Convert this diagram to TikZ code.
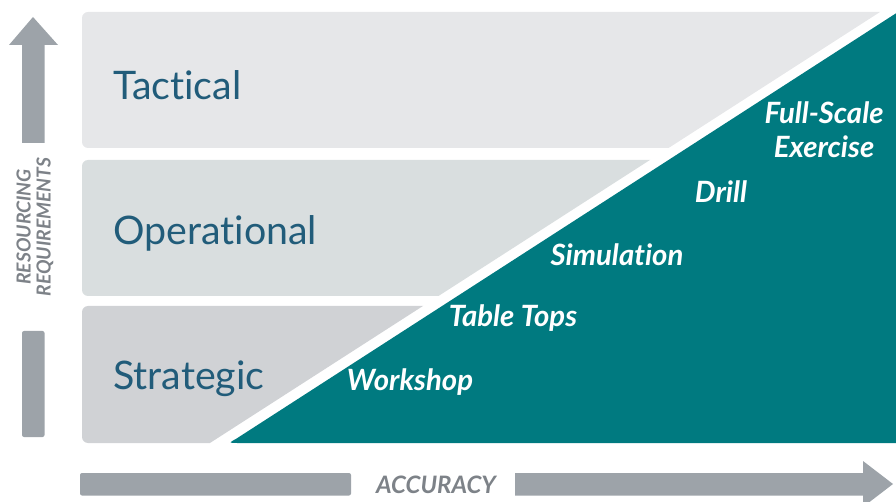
\documentclass[tikz,border=0pt]{standalone}
\usepackage{fontspec}
\setmainfont{Lato}[Ligatures=NoCommon]
\definecolor{bandA}{HTML}{E6E7E9}
\definecolor{bandB}{HTML}{D9DEDF}
\definecolor{bandC}{HTML}{D0D2D5}
\definecolor{tealc}{HTML}{007A80}
\definecolor{axisgray}{HTML}{9DA3A9}
\definecolor{axistext}{HTML}{7D8288}
\definecolor{bandtext}{HTML}{215C7A}
\tikzset{
  bandlabel/.style={anchor=base west, text=bandtext, font=\fontsize{29.5}{32}\selectfont, inner sep=0pt},
  levellabel/.style={anchor=center, text=white, font=\fontsize{22}{25.5}\selectfont\bfseries\itshape, inner sep=0pt, align=center},
  axislabel/.style={anchor=center, text=axistext, font=\fontsize{18}{18}\selectfont\bfseries\itshape, inner sep=0pt},
}
\begin{document}
\begin{tikzpicture}[x=0.75pt,y=-0.75pt]
\useasboundingbox (0,0) rectangle (896,502);
% gray bands clipped by diagonal
\begin{scope}
  \clip (0,-10) -- (914.2,-10) -- (191.3,455) -- (0,455) -- cycle;
  \fill[bandA, rounded corners=4.5pt] (82,12) rectangle (940,148);
  \fill[bandB, rounded corners=4.5pt] (82,160) rectangle (940,296);
  \fill[bandC, rounded corners=4.5pt] (82,306) rectangle (940,443);
\end{scope}
% teal triangle
\fill[tealc] (896,443) -- (896,13.3) -- (236.3,438.7) .. controls (228.6,443) .. (237.6,443) -- cycle;
% band labels
\node[bandlabel] (tac) at (113,100) {Tactical};
\node[bandlabel] (ope) at (113,245) {Operational};
\node[bandlabel] (str) at (113,389) {Strategic};
% level labels
\node[levellabel] (fse) at (824,130) {Full-Scale\\Exercise};
\node[levellabel] (dri) at (721,192) {Drill};
\node[levellabel] (sim) at (617,255) {Simulation};
\node[levellabel] (tab) at (513,318) {Table Tops};
\node[levellabel] (wor) at (410,382) {Workshop};
% vertical axis
\fill[axisgray] (33,17) -- (58,45) -- (44.5,45) -- (44.5,143) -- (22,143) -- (22,45) -- (9,45) -- cycle;
\fill[axisgray, rounded corners=1.5pt] (22,331) rectangle (44.5,437);
\node[axislabel, rotate=90, font=\fontsize{14.5}{15}\selectfont\bfseries\itshape, align=center] (res) at (35,227) {RESOURCING\\REQUIREMENTS};
% horizontal axis
\fill[axisgray, rounded corners=1.5pt] (80,473) rectangle (351,495.5);
\node[axislabel] (acc) at (436,485) {ACCURACY};
\fill[axisgray] (515,473) -- (863,473) -- (863,461) -- (893,484) -- (863,507) -- (863,495.5) -- (515,495.5) -- cycle;
\end{tikzpicture}
\end{document}
